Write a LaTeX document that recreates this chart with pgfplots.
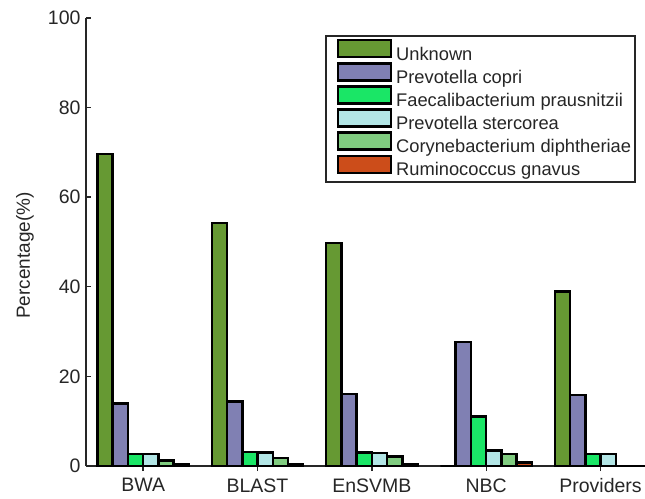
\documentclass[border=0pt]{standalone}
\usepackage{pgfplots}
\pgfplotsset{compat=1.18}
\usepackage{fontspec}
\setmainfont{Liberation Sans}
\definecolor{cUnk}{RGB}{102,153,51}
\definecolor{cCop}{RGB}{128,128,179}
\definecolor{cFae}{RGB}{26,230,102}
\definecolor{cSte}{RGB}{179,230,230}
\definecolor{cCor}{RGB}{128,204,128}
\definecolor{cRum}{RGB}{204,77,26}
\definecolor{axc}{RGB}{38,38,38}
\begin{document}
\begin{tikzpicture}
\begin{axis}[
  at={(0,0)}, anchor=origin,
  scale only axis,
  width=558pt, height=448pt,
  xmin=0.5, xmax=5.38, ymin=0, ymax=100,
  axis lines=left,
  axis line style={-, axc, line width=1.8pt},
  tick style={axc, line width=1.4pt},
  tick align=inside,
  major tick length=5pt,
  ytick={0,20,40,60,80,100},
  xtick={1,2,3,4,5},
  xticklabels={BWA,BLAST,EnSVMB,NBC,Providers},
  /pgf/number format/assume math mode=true,
  ticklabel style={font=\fontsize{19.5}{23}\selectfont, text=axc},
  yticklabel style={xshift=-2pt},
  xticklabel style={yshift=-4pt},
  ylabel={Percentage(\%)},
  every axis y label/.style={at={(axis description cs:-0.1093,0.47)}, rotate=90, anchor=center,
    font=\fontsize{19}{22}\selectfont, text=axc},
  ybar=0pt,
  bar width=15.24pt,
  every axis plot/.append style={draw=black, line width=2.5pt},
  legend cell align=left,
  legend style={at={(rel axis cs:0.9857,0.962)}, anchor=north east,
    draw=axc, line width=1.8pt, fill=white,
    font=\fontsize{18.3}{21}\selectfont, text=axc,
    row sep=-1.5pt, inner xsep=2pt, inner ysep=3pt,
    /tikz/every odd column/.append style={column sep=2pt}},
  legend image code/.code={\path (0pt,0pt); \draw[#1, line width=2.5pt] (9pt,-3pt) rectangle (62pt,14pt);},
  clip=false,
]
\addplot[fill=cUnk] coordinates {(1,69.6) (2,54.2) (3,49.8) (4,0) (5,38.9)};
\addplot[fill=cCop] coordinates {(1,13.9) (2,14.4) (3,16.1) (4,27.7) (5,15.8)};
\addplot[fill=cFae] coordinates {(1,2.7) (2,3.1) (3,3.0) (4,11.1) (5,2.7)};
\addplot[fill=cSte] coordinates {(1,2.7) (2,3.0) (3,2.9) (4,3.5) (5,2.7)};
\addplot[fill=cCor] coordinates {(1,1.2) (2,1.8) (3,2.1) (4,2.7) (5,0)};
\addplot[fill=cRum] coordinates {(1,0.5) (2,0.45) (3,0.5) (4,0.8) (5,0)};
\legend{Unknown,Prevotella copri,Faecalibacterium prausnitzii,Prevotella stercorea,Corynebacterium diphtheriae,Ruminococcus gnavus}
\end{axis}
\pgfresetboundingbox
\path (-86pt,-32pt) rectangle (559pt,466pt);
\end{tikzpicture}
\end{document}
